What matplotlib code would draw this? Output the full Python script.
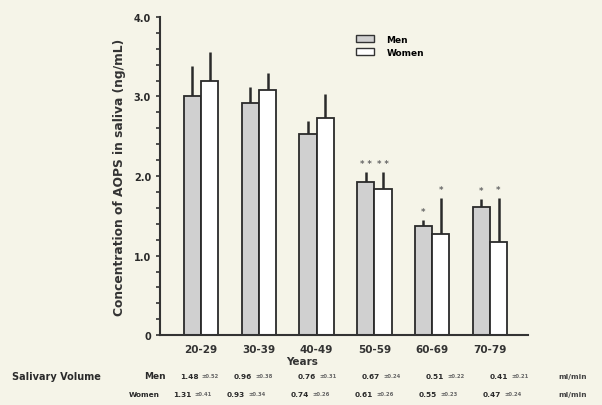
import numpy as np
import matplotlib.pyplot as plt

grupos = ['20-29', '30-39', '40-49', '50-59', '60-69', '70-79']
hombres = [3.00, 2.92, 2.53, 1.92, 1.37, 1.61]
hombres_err = [0.38, 0.20, 0.16, 0.13, 0.08, 0.10]
mujeres = [3.20, 3.08, 2.73, 1.84, 1.27, 1.17]
mujeres_err = [0.36, 0.22, 0.30, 0.21, 0.45, 0.55]
sig_hombres = ['', '', '', '**', '*', '*']
sig_mujeres = ['', '', '', '**', '*', '*']

vol_hombres = ['1.48', '0.96', '0.76', '0.67', '0.51', '0.41']
vol_hombres_sd = ['±0.52', '±0.38', '±0.31', '±0.24', '±0.22', '±0.21']
vol_mujeres = ['1.31', '0.93', '0.74', '0.61', '0.55', '0.47']
vol_mujeres_sd = ['±0.41', '±0.34', '±0.26', '±0.26', '±0.23', '±0.24']

fondo = '#f5f4e8'
tinta = '#2a2a2a'
fig = plt.figure(figsize=(6.02, 4.06), dpi=100, facecolor=fondo)
ax = fig.add_axes([0.266, 0.172, 0.611, 0.784], facecolor=fondo)

x = np.arange(len(grupos))
w = 0.30
ax.bar(x - w / 2, hombres, w, color='#d0d0d0', edgecolor=tinta, linewidth=1.3, zorder=2)
ax.bar(x + w / 2, mujeres, w, color='white', edgecolor=tinta, linewidth=1.3, zorder=2)
# barras de error solo hacia arriba
ax.errorbar(x - w / 2, hombres, yerr=[np.zeros(6), hombres_err], fmt='none',
            ecolor=tinta, elinewidth=1.8, capsize=0, zorder=1)
ax.errorbar(x + w / 2, mujeres, yerr=[np.zeros(6), mujeres_err], fmt='none',
            ecolor=tinta, elinewidth=1.8, capsize=0, zorder=1)

for i in range(len(grupos)):
    if sig_hombres[i]:
        ax.text(x[i] - w / 2, hombres[i] + hombres_err[i] + 0.05, ' '.join(sig_hombres[i]),
                ha='center', va='bottom', fontsize=6, color='#666666', fontweight='bold')
    if sig_mujeres[i]:
        ax.text(x[i] + w / 2, mujeres[i] + mujeres_err[i] + 0.05, ' '.join(sig_mujeres[i]),
                ha='center', va='bottom', fontsize=6, color='#666666', fontweight='bold')

ax.set_xlim(-0.71, 5.66)
ax.set_ylim(0, 4.0)
ax.set_yticks([0, 1, 2, 3, 4])
ax.set_yticklabels(['0', '1.0', '2.0', '3.0', '4.0'], fontsize=7, fontweight='bold', color=tinta)
ax.set_yticks(np.arange(0, 4.01, 0.2), minor=True)
ax.tick_params(axis='y', which='both', direction='out', length=3, width=1.2, color='#333333')
ax.set_xticks(x)
ax.set_xticklabels(grupos, fontsize=7.5, fontweight='bold', color='#333333')
ax.tick_params(axis='x', length=0, pad=6)
for s in ['top', 'right']:
    ax.spines[s].set_visible(False)
for s in ['left', 'bottom']:
    ax.spines[s].set_linewidth(1.5)
    ax.spines[s].set_color('#333333')

ax.set_ylabel('Concentration of AOPS in saliva (ng/mL)', fontsize=8.8, fontweight='bold',
              color='#333333', labelpad=6)
fig.text(302 / 602, 1 - 362 / 406, 'Years', fontsize=7.5, fontweight='bold', color='#333333',
         ha='center', va='center')

leg_h = [plt.Rectangle((0, 0), 1, 1, facecolor='#d0d0d0', edgecolor='#333333'),
         plt.Rectangle((0, 0), 1, 1, facecolor='white', edgecolor='#333333')]
ax.legend(leg_h, ['Men', 'Women'], loc='upper left', bbox_to_anchor=(0.51, 0.97),
          frameon=False, prop={'size': 6.5, 'weight': 'bold'}, handlelength=2.0,
          handleheight=0.8, labelspacing=0.45, handletextpad=1.4)

# tabla de volumen salival
fs = 5.3
y1 = 1 - 377 / 406
y2 = 1 - 395 / 406
fig.text(12 / 602, y1, 'Salivary Volume', fontsize=7, fontweight='bold', color=tinta, va='center')
fig.text(166 / 602, y1, 'Men', fontsize=6.5, fontweight='bold', color=tinta, va='center', ha='right')
fig.text(160 / 602, y2, 'Women', fontsize=fs, fontweight='bold', color=tinta, va='center', ha='right')
col = [180, 234, 298, 362, 426, 490]
for i in range(6):
    x0 = col[i] / 602
    fig.text(x0, y1, vol_hombres[i], fontsize=fs, fontweight='bold', color=tinta, va='center')
    fig.text(x0 + 0.036, y1, vol_hombres_sd[i], fontsize=3.8, fontweight='bold', color='#666666', va='center')
    fig.text(x0 - 0.012, y2, vol_mujeres[i], fontsize=fs, fontweight='bold', color=tinta, va='center')
    fig.text(x0 + 0.024, y2, vol_mujeres_sd[i], fontsize=3.8, fontweight='bold', color='#666666', va='center')
fig.text(558 / 602, y1, 'ml/min', fontsize=fs, fontweight='bold', color='#444444', va='center')
fig.text(558 / 602, y2, 'ml/min', fontsize=fs, fontweight='bold', color='#444444', va='center')

fig.savefig('out.png', dpi=100, facecolor=fondo)
